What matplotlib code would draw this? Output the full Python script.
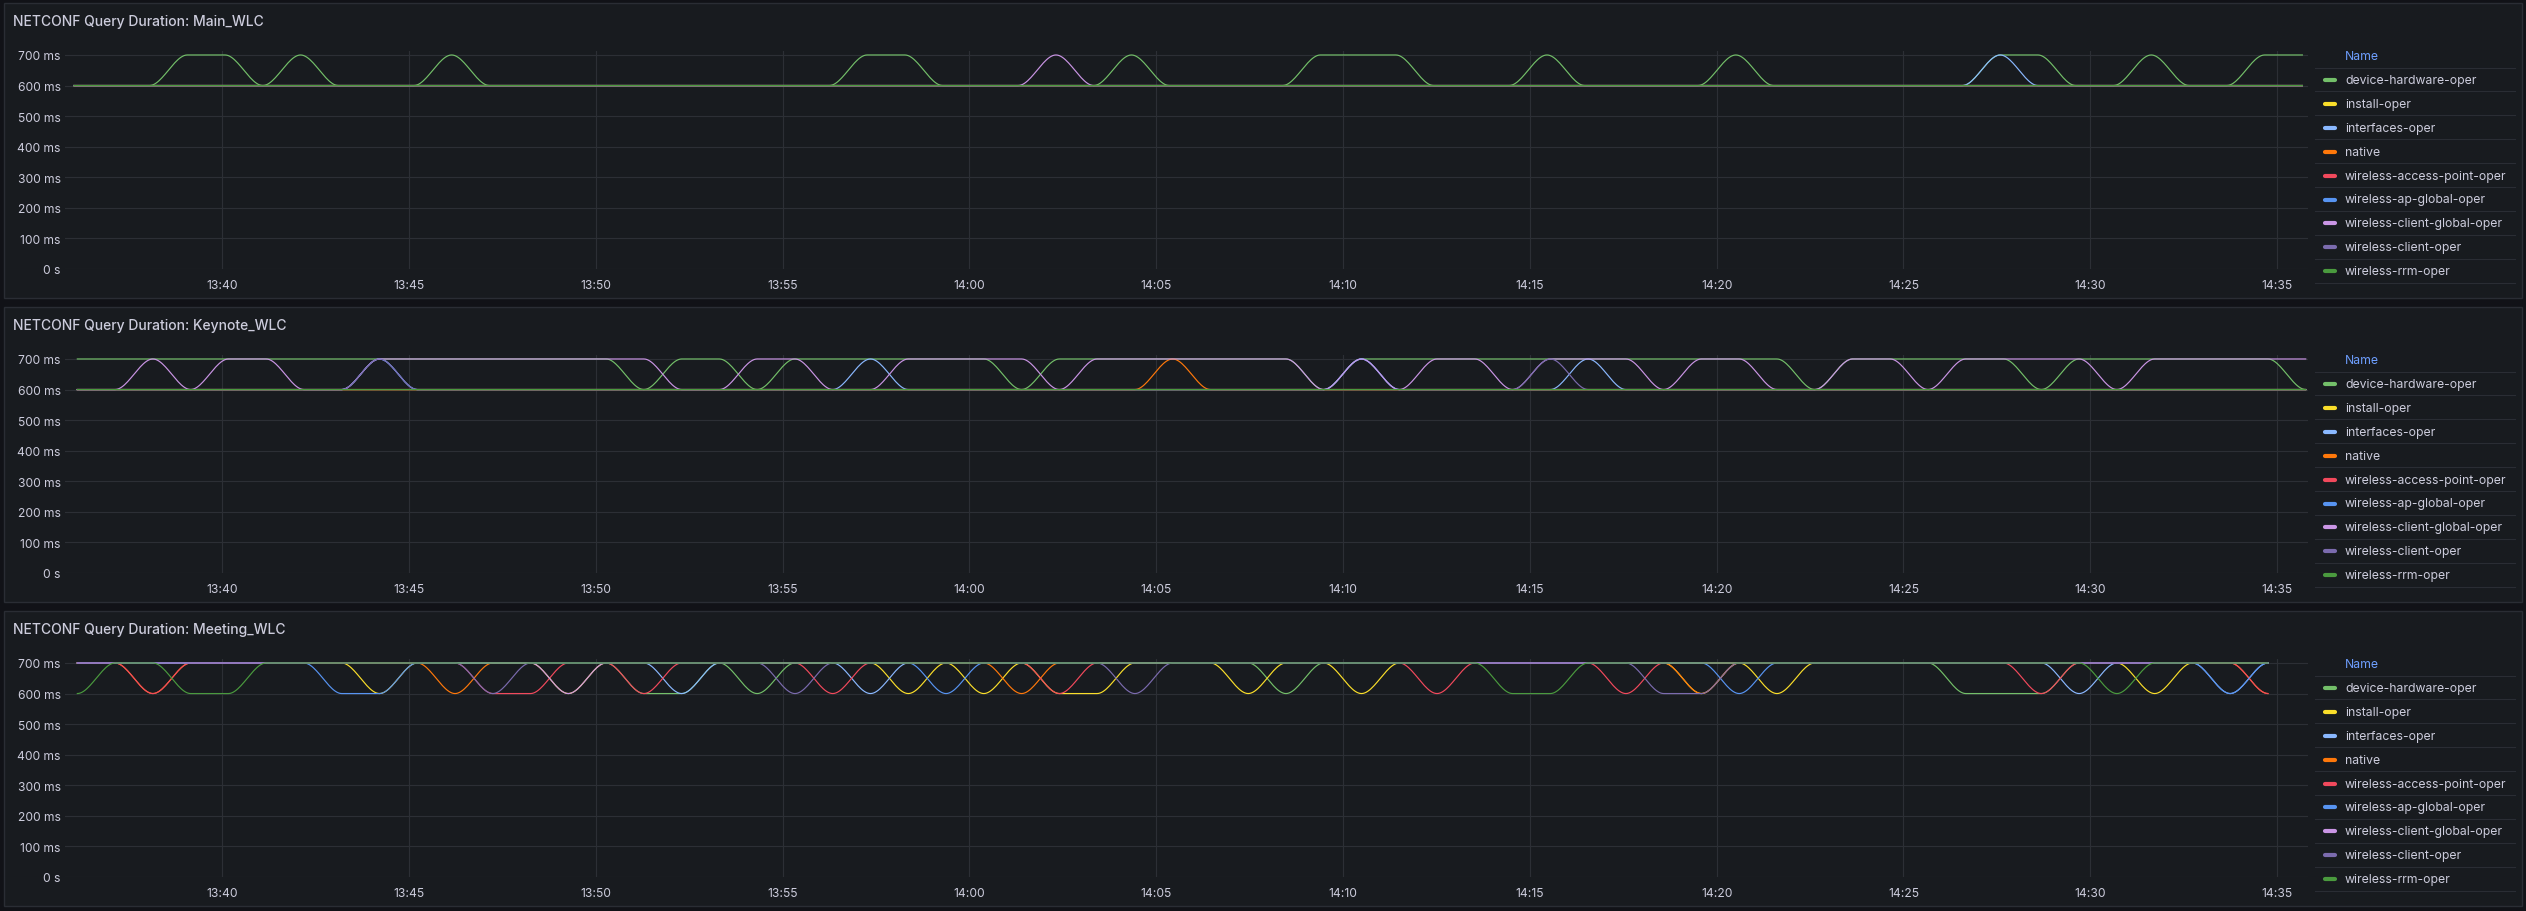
import matplotlib
matplotlib.use("Agg")
import matplotlib.pyplot as plt
import numpy as np

W, H = 2526, 912

SERIES = ["device-hardware-oper", "install-oper", "interfaces-oper", "native",
          "wireless-access-point-oper", "wireless-ap-global-oper",
          "wireless-client-global-oper", "wireless-client-oper", "wireless-rrm-oper"]
COLORS = ["#73BF69", "#FADE2A", "#8AB8FF", "#FF780A", "#F2495C", "#5794F2",
          "#CA95E5", "#7B6BAE", "#4A9A3E"]

TITLES = ["NETCONF Query Duration: Main_WLC",
          "NETCONF Query Duration: Keynote_WLC",
          "NETCONF Query Duration: Meeting_WLC"]

# one char per scrape (about a minute apart): 0 = 600 ms, 1 = 700 ms
MAIN_WLC = [
    "0001101000 1000000000 0110000010 0001110001 0000100000 0110010011",
    "0000000000 0000000000 0000000000 0000000000 0000000000 0000000000",
    "0000000000 0000000000 0000000000 0000000000 0000000000 0100000000",
    "0000000000 0000000000 0000000000 0000000000 0000000000 0000000000",
    "0000000000 0000000000 0000000000 0000000000 0000000000 0000000000",
    "0000000000 0000000000 0000000000 0000000000 0000000000 0000000000",
    "0000000000 0000000000 0000001000 0000000000 0000000000 0000000000",
    "0000000000 0000000000 0000000000 0000000000 0000000000 0000000000",
    "0000000000 0000000000 0000000000 0000000000 0000000000 0000000000",
]
KEYNOTE_WLC = [
    "1111111111 1111101101 1111101111 1110111111 1111110111 1101111110",
    "0000000000 0000000000 0000000000 0000000000 0000000000 0000000000",
    "0000000010 0000000000 0100000000 0000100000 1000000000 0000000000",
    "0000000000 0000000000 0000000001 0000000000 0000000000 0000000000",
    "0000000000 0000000000 0000000000 0000000000 0000000000 0000000000",
    "0000000010 0000000000 0000000000 0000100000 0000000000 0000000000",
    "0010110011 1111110011 0011110111 1110101101 1101100110 1111011111",
    "0000000010 0000000000 0000000000 0000000001 0000000000 0000000000",
    "0000000000 0000000000 0000000000 0000000000 0000000000 0000000000",
]
MEETING_WLC = [
    "1111111111 1111100101 1111111111 1101111111 1111111111 000111111",
    "1111111101 1110111111 1101010011 1011011111 1110101111 111110111",
    "1111111111 1111110111 1011111111 1111111111 1111111111 111011101",
    "1101111111 0111111111 1111101111 1111111111 1110111111 111111110",
    "1101111111 1001101111 0111110111 1111110111 1011111111 110111110",
    "1111111001 1111111111 1110111111 1111111111 1111011111 111111101",
    "1111111111 1110111111 1111111111 1111111111 1111111111 111111111",
    "1111111111 1011111110 1111111101 1111111111 1100111111 111111111",
    "0110011111 1111111111 1111111111 1111111100 1111111111 111101111",
]
PANELS = [MAIN_WLC, KEYNOTE_WLC, MEETING_WLC]

# minutes since midnight of the first scrape, and scrape spacing
FIRST_SCRAPE = [816.03, 816.12, 816.12]
SCRAPE_STEP = 1.011

X_TICKS = list(range(820, 876, 5))
Y_TICKS = [0, 100, 200, 300, 400, 500, 600, 700]

BG = "#111217"
PANEL_BG = "#181b1f"
BORDER = "#2a2d34"
GRID = "#2c2f35"
TEXT = "#ccccdc"
FONT = ["Inter", "DejaVu Sans"]


def decode(s):
    return np.array([600.0 if c == "0" else 700.0 for c in s.replace(" ", "")])


def smooth(x, y, n=24):
    # monotone cubic (Fritsch-Carlson), like Grafana's smooth line
    h = np.diff(x)
    d = np.diff(y) / h
    m = np.zeros_like(y)
    for i in range(1, len(y) - 1):
        if d[i - 1] * d[i] > 0:
            w1 = 2 * h[i] + h[i - 1]
            w2 = h[i] + 2 * h[i - 1]
            m[i] = (w1 + w2) / (w1 / d[i - 1] + w2 / d[i])
    xs, ys = [], []
    t = np.linspace(0, 1, n, endpoint=False)
    for i in range(len(y) - 1):
        h00 = 2 * t**3 - 3 * t**2 + 1
        h10 = t**3 - 2 * t**2 + t
        h01 = -2 * t**3 + 3 * t**2
        h11 = t**3 - t**2
        xs.append(x[i] + t * h[i])
        ys.append(h00 * y[i] + h10 * h[i] * m[i] + h01 * y[i + 1] + h11 * h[i] * m[i + 1])
    xs.append([x[-1]])
    ys.append([y[-1]])
    return np.concatenate(xs), np.concatenate(ys)


def fmt_ms(v):
    return "0 s" if v == 0 else f"{v} ms"


def fmt_time(m):
    return f"{m // 60}:{m % 60:02d}"


def main():
    plt.rcParams["font.family"] = FONT
    fig = plt.figure(figsize=(W / 100, H / 100), dpi=100, facecolor=BG)

    over = fig.add_axes([0, 0, 1, 1], zorder=0)
    over.set_xlim(0, W)
    over.set_ylim(H, 0)
    over.axis("off")

    for p, data in enumerate(PANELS):
        off = 304 * p
        over.add_patch(plt.Rectangle((4, 4 + off), 2518, 295, facecolor=PANEL_BG,
                                     edgecolor=BORDER, lw=1))
        over.text(13, 22 + off, TITLES[p], color=TEXT, fontsize=10, fontweight="medium",
                  va="center", ha="left")

        # legend
        over.text(2345, 57 + off, "Name", color="#6E9FFF", fontsize=8.8,
                  va="center", ha="left")
        for r in range(10):
            yl = 68.5 + off + r * 23.9
            over.plot([2315, 2515], [yl, yl], color=BORDER, lw=0.8)
        for i, name in enumerate(SERIES):
            yr = 81 + off + i * 23.9
            over.plot([2325, 2335], [yr, yr], color=COLORS[i], lw=3,
                      solid_capstyle="round")
            over.text(2345, yr, name, color=TEXT, fontsize=8.8, va="center", ha="left")

        # plot area: left 65, right 2308, top 52, bottom (0 s) 270
        left, right, top, bottom = 65, 2308, 52 + off, 270 + off
        ax = fig.add_axes([left / W, 1 - bottom / H, (right - left) / W, (bottom - top) / H],
                          zorder=1)
        ax.set_facecolor("none")
        for i in range(len(SERIES)):
            y = decode(data[i])
            x = FIRST_SCRAPE[p] + SCRAPE_STEP * np.arange(len(y))
            xs, ys = smooth(x, y)
            ax.plot(xs, ys, color=COLORS[i], lw=0.85, solid_joinstyle="round")

        ax.set_xlim(815.79, 875.83)
        ax.set_ylim(0, 713)
        ax.set_xticks(X_TICKS)
        ax.set_xticklabels([fmt_time(m) for m in X_TICKS])
        ax.set_yticks(Y_TICKS)
        ax.set_yticklabels([fmt_ms(v) for v in Y_TICKS])
        ax.grid(True, color=GRID, lw=0.8)
        ax.set_axisbelow(True)
        for s in ax.spines.values():
            s.set_visible(False)
        ax.tick_params(axis="both", length=0, colors=TEXT, labelsize=8.7)
        ax.tick_params(axis="y", pad=3)
        ax.tick_params(axis="x", pad=7)

    fig.savefig("out.png", dpi=100, facecolor=BG)


if __name__ == "__main__":
    main()
